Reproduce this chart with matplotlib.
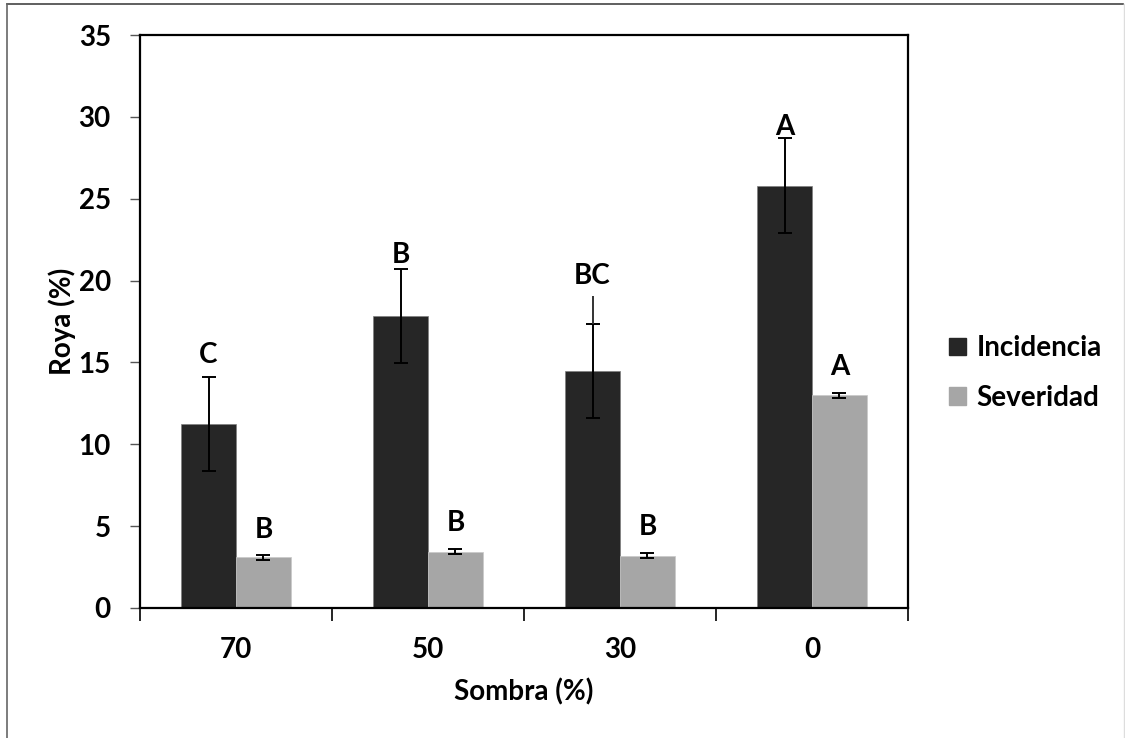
import matplotlib.pyplot as plt
import numpy as np
from matplotlib.lines import Line2D

# data
sombra = ['70', '50', '30', '0']
incidencia = [11.25, 17.85, 14.48, 25.8]
incidencia_err = [2.88, 2.87, 2.88, 2.88]
severidad = [3.1, 3.45, 3.2, 13.0]
severidad_err = [0.16, 0.16, 0.16, 0.15]
letras_inc = ['C', 'B', 'BC', 'A']
letras_sev = ['B', 'B', 'B', 'A']
# height (data units) where each letter sits
letras_inc_y = [15.45, 21.56, 20.28, 29.4]
letras_sev_y = [4.76, 5.19, 4.97, 14.74]
# extra uncapped whisker seen on the 30 % bar
extra_whisker = (2, 17.36, 19.05)

plt.rcParams['font.family'] = ['Lato', 'DejaVu Sans']
plt.rcParams['font.weight'] = 'bold'
FS = 20

fig = plt.figure(figsize=(11.25, 7.38), dpi=100)
ax = fig.add_axes([140 / 1125, 1 - 608 / 738, 768 / 1125, 573 / 738])

x = np.arange(len(sombra))
w = 0.286
ax.bar(x - w / 2, incidencia, w, color='#262626', edgecolor='#7f7f7f',
       linewidth=0.5, label='Incidencia', zorder=2)
ax.bar(x + w / 2, severidad, w, color='#a6a6a6', edgecolor='#c8c8c8',
       linewidth=0.5, label='Severidad', zorder=2)
ax.errorbar(x - w / 2, incidencia, yerr=incidencia_err, fmt='none', ecolor='black',
            elinewidth=1.4, capsize=5, capthick=1.4, zorder=3)
ax.errorbar(x + w / 2, severidad, yerr=severidad_err, fmt='none', ecolor='black',
            elinewidth=1.4, capsize=5, capthick=1.4, zorder=3)
i, y0, y1 = extra_whisker
ax.vlines(x[i] - w / 2, y0, y1, color='#333333', linewidth=1.4, zorder=3)

for xi, lab, ly in zip(x - w / 2, letras_inc, letras_inc_y):
    ax.text(xi, ly, lab, ha='center', va='center', fontsize=FS, fontweight='bold')
for xi, lab, ly in zip(x + w / 2, letras_sev, letras_sev_y):
    ax.text(xi, ly, lab, ha='center', va='center', fontsize=FS, fontweight='bold')

ax.set_xlim(-0.5, len(sombra) - 0.5)
ax.set_ylim(0, 35)
ax.set_yticks(np.arange(0, 36, 5))
ax.set_xticks(x)
ax.set_xticklabels(sombra)
ax.set_xticks(np.arange(-0.5, len(sombra)), minor=True)
ax.tick_params(axis='x', which='major', length=0, pad=21, labelsize=FS)
ax.tick_params(axis='x', which='minor', length=9, width=1.2, color='black')
ax.tick_params(axis='y', length=7, width=1.0, color='#555555', pad=14, labelsize=FS)
for lab in ax.get_xticklabels() + ax.get_yticklabels():
    lab.set_fontweight('bold')

for s in ax.spines.values():
    s.set_linewidth(1.6)
    s.set_color('black')

ax.set_ylabel('Roya (%)', fontsize=FS, fontweight='bold', labelpad=2)
ax.set_xlabel('Sombra (%)', fontsize=FS, fontweight='bold', labelpad=11)

handles = [plt.Rectangle((0, 0), 1, 1, color='#262626'),
           plt.Rectangle((0, 0), 1, 1, color='#a6a6a6')]
fig.legend(handles, ['Incidencia', 'Severidad'], loc='center left',
           bbox_to_anchor=(924 / 1125, 1 - 373 / 738), frameon=False,
           prop={'size': FS, 'weight': 'bold'}, handlelength=0.6, handleheight=0.6,
           handletextpad=0.4, labelspacing=0.85)

# outer chart frame
fig.add_artist(Line2D([7 / 1125, 1123 / 1125], [1 - 4 / 738, 1 - 4 / 738],
                      transform=fig.transFigure, color='#444444', linewidth=1.2))
fig.add_artist(Line2D([7 / 1125, 7 / 1125], [0, 1 - 4 / 738],
                      transform=fig.transFigure, color='#666666', linewidth=1.2))
fig.add_artist(Line2D([1123.5 / 1125, 1123.5 / 1125], [0, 1 - 4 / 738],
                      transform=fig.transFigure, color='#dddddd', linewidth=1.0))

fig.savefig('out.png', dpi=100)
